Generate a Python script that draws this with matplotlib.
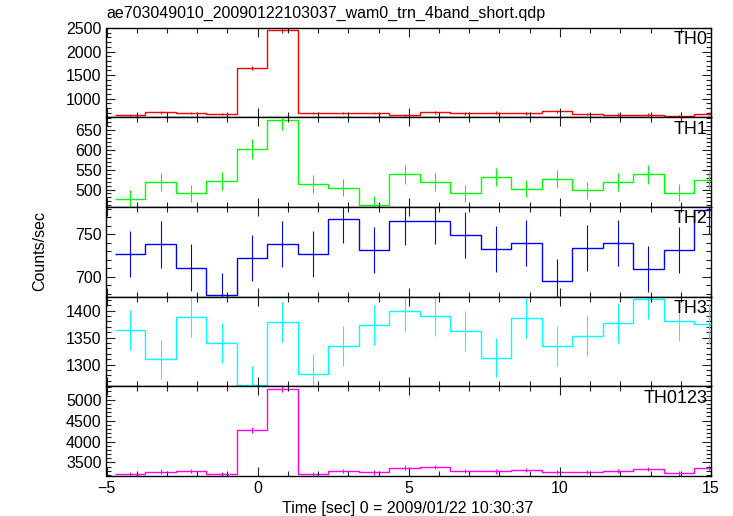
import numpy as np
import matplotlib
matplotlib.use("Agg")
import matplotlib.pyplot as plt
from matplotlib.ticker import MultipleLocator

plt.rcParams["font.family"] = ["Liberation Sans", "DejaVu Sans"]

title = "ae703049010_20090122103037_wam0_trn_4band_short.qdp"
xlabel = "Time [sec] 0 = 2009/01/22 10:30:37"
ylabel = "Counts/sec"

# bin centres [sec] and half width
time = np.array([-4.22, -3.21, -2.20, -1.19, -0.19, 0.82, 1.83, 2.84, 3.85, 4.86,
                 5.87, 6.87, 7.88, 8.89, 9.90, 10.91, 11.92, 12.93, 13.94, 14.94])
half_width = 0.504

bands = ["TH0", "TH1", "TH2", "TH3", "TH0123"]
colors = ["#ff0000", "#00ff00", "#0000ff", "#00ffff", "#ff00ff"]

th0 = [652, 712, 700, 676, 1660, 2455, 700, 695, 695, 652,
       712, 690, 702, 690, 730, 678, 662, 662, 640, 685]
th0_err = [26, 27, 26, 26, 41, 50, 26, 26, 26, 26,
           27, 26, 27, 26, 27, 26, 26, 26, 25, 26]

th1 = [477, 518, 490, 521, 603, 677, 513, 505, 462, 538,
       518, 490, 532, 502, 526, 498, 520, 538, 492, 525]
th1_err = [22, 23, 22, 23, 25, 26, 23, 22, 21, 23,
           23, 22, 23, 22, 23, 22, 23, 23, 22, 23]

th2 = [727, 738, 711, 679, 722, 739, 727, 768, 732, 765,
       766, 749, 733, 740, 695, 734, 740, 709, 732, 778]
th2_err = [27, 27, 27, 26, 27, 27, 27, 28, 27, 28,
           28, 27, 27, 27, 26, 27, 27, 27, 27, 28]

th3 = [1365, 1310, 1388, 1341, 1262, 1379, 1283, 1334, 1373, 1399,
       1390, 1362, 1313, 1386, 1334, 1353, 1377, 1422, 1381, 1376]
th3_err = [37, 36, 37, 37, 36, 37, 36, 37, 37, 37,
           37, 37, 36, 37, 37, 37, 37, 38, 37, 37]

th0123 = [3215, 3277, 3293, 3221, 4274, 5255, 3221, 3293, 3261, 3373,
          3389, 3293, 3285, 3317, 3269, 3269, 3293, 3341, 3237, 3373]
th0123_err = [57, 57, 57, 57, 65, 72, 57, 57, 57, 58,
              58, 57, 57, 58, 57, 57, 57, 58, 57, 58]

series = [th0, th1, th2, th3, th0123]
errors = [th0_err, th1_err, th2_err, th3_err, th0123_err]
ylims = [(608, 2512), (456, 683), (677, 782), (1260, 1426), (3175, 5320)]
major_steps = [500, 50, 50, 50, 500]
minor_steps = [100, 10, 10, 10, 100]


def main():
    W, H = 733, 516
    fig, axes = plt.subplots(5, 1, sharex=True, figsize=(W / 100, H / 100), dpi=100)
    fig.subplots_adjust(left=106.5 / W, right=711 / W, top=1 - 27.5 / H,
                        bottom=1 - 476 / H, hspace=0)

    edges = np.append(time - half_width, time[-1] + half_width)

    for ax, name, col, y, e, lim, maj, mnr in zip(
            axes, bands, colors, series, errors, ylims, major_steps, minor_steps):
        ax.stairs(y, edges, baseline=None, color=col, linewidth=1.0)
        ax.errorbar(time, y, yerr=e, fmt="none", ecolor=col, elinewidth=0.8,
                    capsize=0)
        ax.set_ylim(*lim)
        ax.set_xlim(-5, 15)
        ax.xaxis.set_major_locator(MultipleLocator(5))
        ax.xaxis.set_minor_locator(MultipleLocator(1))
        ax.yaxis.set_major_locator(MultipleLocator(maj))
        ax.yaxis.set_minor_locator(MultipleLocator(mnr))
        ax.tick_params(which="both", direction="in", top=True, right=True,
                       labelsize=11.5, width=0.8, color="#222222")
        ax.tick_params(which="major", length=6.5)
        ax.tick_params(which="minor", length=3.3)
        for sp in ax.spines.values():
            sp.set_linewidth(1.0)
        ax.text(0.995, 0.96, name, transform=ax.transAxes, ha="right", va="top",
                fontsize=13)

    fig.text(106.5 / W, 1 - 13 / H, title, ha="left", va="center", fontsize=11.5)
    fig.text(40 / W, 1 - 251 / H, ylabel, ha="center", va="center",
             rotation=90, fontsize=11.5)
    fig.text(408 / W, 1 - 508 / H, xlabel, ha="center", va="center", fontsize=11.5)

    fig.savefig("out.png", dpi=100)


if __name__ == "__main__":
    main()
